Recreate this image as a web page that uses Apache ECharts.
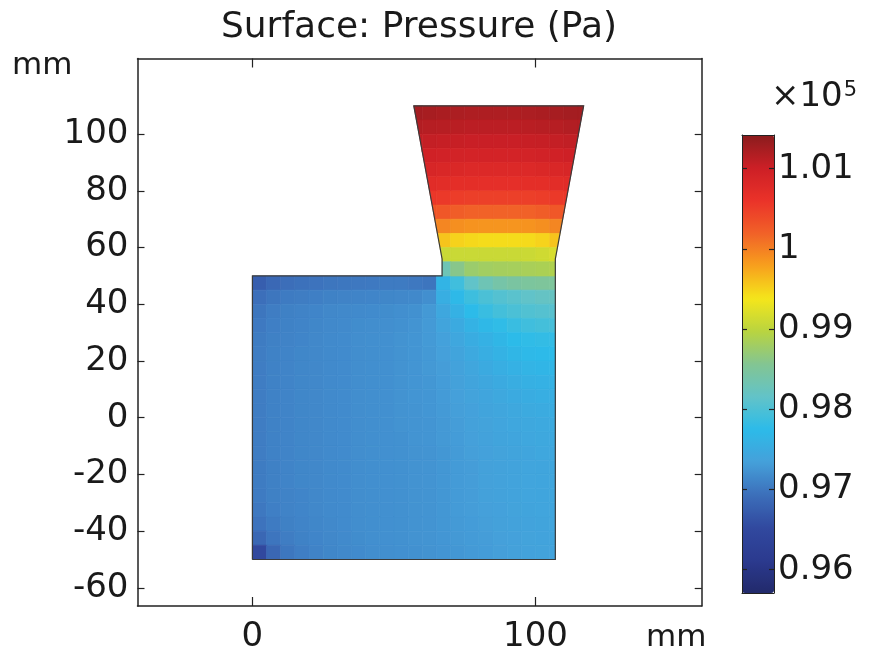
<!DOCTYPE html>
<html><head><meta charset="utf-8">
<script src="https://cdn.jsdelivr.net/npm/echarts@6/dist/echarts.min.js"></script>
<style>html,body{margin:0;padding:0;background:#fff}#c{width:869px;height:657px}</style>
</head><body><div id="c"></div>
<script>
const FONT = 'DejaVu Sans';
const titleText = 'Surface: Pressure (Pa)';
const xTicks = [0, 100];
const yTicks = [-60, -40, -20, 0, 20, 40, 60, 80, 100];
// colour-bar ticks, in hPa (label = value / 1000, i.e. x10^5 Pa)
const cbTicks = [960, 970, 980, 990, 1000, 1010];
const pMin = 957.1, pMax = 1014.2;

// ---- pressure field (hPa), 5 mm cells ----
const boxX = [2.5,7.5,12.5,17.5,22.5,27.5,32.5,37.5,42.5,47.5,52.5,57.5,62.5,67.5,72.5,77.5,82.5,87.5,92.5,97.5,102.5,107.5];
const boxY = [47.5,42.5,37.5,32.5,27.5,22.5,17.5,12.5,7.5,2.5,-2.5,-7.5,-12.5,-17.5,-22.5,-27.5,-32.5,-37.5,-42.5,-47.5];
const boxP = [
 [967.5,968.6,969.2,969.5,969.7,969.9,970.0,970.1,970.2,970.3,970.3,970.1,969.8,976.5,979.0,981.5,983.0,984.0,984.5,984.8,985.0,985.0],
 [969.3,969.9,970.3,970.5,970.7,970.9,971.0,971.1,971.2,971.3,971.4,971.5,972.0,975.5,977.2,978.8,979.8,980.5,981.0,981.5,981.9,982.1],
 [969.9,970.5,970.8,971.0,971.2,971.4,971.5,971.6,971.7,971.8,972.0,972.2,972.8,974.5,976.0,977.5,978.5,979.3,979.8,980.3,980.6,980.8],
 [970.2,970.7,970.9,971.1,971.3,971.5,971.6,971.8,971.9,972.0,972.2,972.4,972.9,974.0,975.0,976.2,977.0,977.8,978.5,979.0,979.3,979.5],
 [970.4,970.8,971.0,971.2,971.4,971.6,971.7,971.9,972.0,972.1,972.3,972.5,972.9,973.6,974.4,975.3,976.0,976.8,977.5,977.8,978.0,978.0],
 [970.5,970.9,971.1,971.3,971.4,971.6,971.7,971.9,972.0,972.1,972.3,972.5,972.8,973.4,974.0,974.8,975.5,976.2,976.8,977.2,977.4,977.5],
 [970.5,970.9,971.1,971.3,971.4,971.6,971.7,971.9,972.0,972.1,972.3,972.5,972.8,973.2,973.7,974.3,975.0,975.5,976.0,976.4,976.6,976.7],
 [970.5,970.9,971.1,971.3,971.4,971.6,971.7,971.9,972.0,972.1,972.3,972.5,972.7,973.1,973.5,974.0,974.5,975.0,975.4,975.8,976.0,976.1],
 [970.5,970.9,971.1,971.3,971.4,971.6,971.7,971.9,972.0,972.1,972.3,972.5,972.6,973.0,973.4,973.8,974.2,974.6,975.0,975.3,975.5,975.6],
 [970.5,970.9,971.1,971.3,971.4,971.6,971.7,971.9,972.0,972.1,972.3,972.4,972.6,972.9,973.3,973.6,974.0,974.3,974.6,974.9,975.1,975.2],
 [970.5,970.9,971.1,971.3,971.4,971.6,971.7,971.9,972.0,972.1,972.3,972.4,972.5,972.8,973.2,973.5,973.8,974.1,974.4,974.6,974.8,974.9],
 [970.5,970.9,971.1,971.3,971.4,971.6,971.7,971.9,972.0,972.1,972.2,972.4,972.5,972.8,973.1,973.4,973.7,974.0,974.2,974.4,974.6,974.7],
 [970.5,970.9,971.1,971.3,971.4,971.6,971.7,971.9,972.0,972.1,972.2,972.3,972.4,972.7,973.0,973.3,973.6,973.8,974.0,974.2,974.4,974.5],
 [970.4,970.8,971.1,971.3,971.4,971.6,971.7,971.9,972.0,972.1,972.2,972.3,972.4,972.7,973.0,973.2,973.5,973.7,973.9,974.1,974.2,974.3],
 [970.4,970.8,971.1,971.3,971.4,971.6,971.7,971.9,972.0,972.1,972.2,972.3,972.4,972.7,973.0,973.2,973.5,973.7,973.9,974.1,974.2,974.3],
 [970.3,970.8,971.0,971.2,971.4,971.6,971.7,971.9,972.0,972.1,972.2,972.3,972.4,972.7,973.0,973.2,973.5,973.7,973.9,974.1,974.2,974.3],
 [970.1,970.7,971.0,971.2,971.4,971.6,971.7,971.9,972.0,972.1,972.2,972.3,972.4,972.7,973.0,973.2,973.4,973.6,973.8,974.0,974.1,974.2],
 [969.7,970.3,970.8,971.1,971.3,971.5,971.7,971.9,972.0,972.1,972.2,972.3,972.4,972.7,972.9,973.1,973.3,973.5,973.7,973.9,974.0,974.1],
 [968.5,969.8,970.5,970.9,971.2,971.4,971.6,971.8,972.0,972.1,972.2,972.3,972.4,972.6,972.8,973.0,973.2,973.4,973.6,973.8,973.9,974.0],
 [965.0,968.5,970.0,970.6,971.0,971.3,971.5,971.7,971.9,972.0,972.1,972.2,972.3,972.5,972.7,972.9,973.1,973.3,973.5,973.7,973.8,973.9]
];
const neckX = [57.5,62.5,67.5,72.5,77.5,82.5,87.5,92.5,97.5,102.5,107.5,112.5,117.5];
const neckY = [107.5,102.5,97.5,92.5,87.5,82.5,77.5,72.5,67.5,62.5,57.5,52.5];
const neckP = [
 [1012.6,1012.4,1012.2,1012.1,1012.0,1012.0,1012.0,1012.0,1012.1,1012.2,1012.4,1012.6,1012.6],
 [1011.7,1011.5,1011.4,1011.3,1011.2,1011.2,1011.2,1011.2,1011.3,1011.4,1011.5,1011.7,1011.7],
 [1010.8,1010.6,1010.5,1010.4,1010.3,1010.3,1010.3,1010.3,1010.4,1010.5,1010.6,1010.8,1010.8],
 [1009.8,1009.6,1009.4,1009.3,1009.2,1009.2,1009.2,1009.2,1009.3,1009.4,1009.6,1009.8,null],
 [null,1008.6,1008.4,1008.2,1008.0,1008.0,1008.0,1008.0,1008.0,1008.2,1008.4,1008.6,null],
 [null,1007.3,1007.1,1006.9,1006.8,1006.7,1006.7,1006.7,1006.8,1006.9,1007.1,1007.3,null],
 [null,1005.6,1005.4,1005.1,1004.9,1004.8,1004.8,1004.8,1004.9,1005.1,1005.4,1005.6,null],
 [null,1003.0,1002.8,1002.3,1002.0,1001.9,1001.9,1001.9,1002.0,1002.3,1002.8,1003.0,null],
 [null,1000.0,999.6,999.0,998.7,998.6,998.6,998.6,998.7,999.0,999.6,null,null],
 [null,null,995.8,995.0,994.6,994.4,994.4,994.4,994.5,994.9,995.8,null,null],
 [null,null,990.8,990.8,990.8,990.8,990.8,990.8,990.9,991.2,991.8,null,null],
 [null,null,983.0,986.0,987.5,988.0,988.2,988.3,988.5,988.7,989.0,null,null]
];

// ---- geometry (mm); the outlet is split into two convex pieces ----
const boxRegion = [[0,-50],[107,-50],[107,50],[0,50]];
const neckLowRegion = [[67,50],[107,50],[107,56],[67,56]];
const neckHighRegion = [[67,56],[107,56],[117,110],[57,110]];
const outlineX = [0,107,107,117,57,67,67,0,0];
const outlineY = [-50,-50,56,110,110,56,50,50,-50];

const cmap = ['#222a6b','#2b3a8f','#31499f','#3c6fba','#45a0da','#2cbbe9','#62c3c8','#83c592','#b9d43f','#f5e61b','#f7a01d','#f16128','#ea3229','#cc1f26','#8a1c1d'];

const CELL = 5;
const fieldData = [];
boxY.forEach((y, i) => boxX.forEach((x, j) => { const v = boxP[i][j]; if (v != null) fieldData.push([x, y, v, 0]); }));
neckY.forEach((y, i) => neckX.forEach((x, j) => { const v = neckP[i][j]; if (v != null) fieldData.push([x, y, v, 1]); }));

function clipPoly(subject, clip) {
  let out = subject;
  for (let i = 0; i < clip.length && out.length; i++) {
    const a = clip[i], b = clip[(i + 1) % clip.length];
    const side = p => (b[0] - a[0]) * (p[1] - a[1]) - (b[1] - a[1]) * (p[0] - a[0]);
    const inp = out; out = [];
    for (let j = 0; j < inp.length; j++) {
      const s = inp[(j + inp.length - 1) % inp.length], e = inp[j];
      const ds = side(s), de = side(e);
      const cross = () => { const t = ds / (ds - de); return [s[0] + t * (e[0] - s[0]), s[1] + t * (e[1] - s[1])]; };
      if (de >= -1e-9) { if (ds < -1e-9) out.push(cross()); out.push(e); }
      else if (ds >= -1e-9) out.push(cross());
    }
  }
  return out;
}

const axisFont = { fontFamily: FONT, fontSize: 34, color: '#1a1a1a' };
const frameLine = { show: true, onZero: false, lineStyle: { color: '#222', width: 1.5 } };
const thinLine = { show: true, onZero: false, lineStyle: { color: '#222', width: 1 } };

const chart = echarts.init(document.getElementById('c'), null, { renderer: 'canvas' });
chart.setOption({
  animation: false,
  backgroundColor: '#fff',
  title: { text: titleText, left: 419, top: 10, textAlign: 'center', padding: 0,
    textStyle: { fontFamily: FONT, fontSize: 36, fontWeight: 'normal', color: '#1a1a1a' } },
  grid: [
    { left: 137.5, top: 58.5, width: 564.2, height: 547.5 },
    { left: 742, top: 135, width: 32, height: 458 }
  ],
  xAxis: [
    { gridIndex: 0, type: 'value', min: -40.6, max: 158.7, position: 'bottom', splitLine: { show: false },
      axisLine: frameLine, axisTick: { inside: true, length: 9, customValues: xTicks, lineStyle: { color: '#222', width: 1.2 } },
      axisLabel: Object.assign({ customValues: xTicks, margin: 14 }, axisFont) },
    { gridIndex: 0, type: 'value', min: -40.6, max: 158.7, position: 'top', splitLine: { show: false },
      axisLine: frameLine, axisTick: { inside: true, length: 9, customValues: xTicks, lineStyle: { color: '#222', width: 1.2 } },
      axisLabel: { show: false } },
    { gridIndex: 1, type: 'value', min: 0, max: 1, position: 'bottom', z: 10, splitLine: { show: false },
      axisLine: thinLine, axisTick: { show: false }, axisLabel: { show: false } },
    { gridIndex: 1, type: 'value', min: 0, max: 1, position: 'top', z: 10, splitLine: { show: false },
      axisLine: thinLine, axisTick: { show: false }, axisLabel: { show: false } }
  ],
  yAxis: [
    { gridIndex: 0, type: 'value', min: -66.4, max: 126.7, position: 'left', splitLine: { show: false },
      axisLine: frameLine, axisTick: { inside: true, length: 7, customValues: yTicks, lineStyle: { color: '#222', width: 1.2 } },
      axisLabel: Object.assign({ customValues: yTicks, margin: 9 }, axisFont) },
    { gridIndex: 0, type: 'value', min: -66.4, max: 126.7, position: 'right', splitLine: { show: false },
      axisLine: frameLine, axisTick: { inside: true, length: 7, customValues: yTicks, lineStyle: { color: '#222', width: 1.2 } },
      axisLabel: { show: false } },
    { gridIndex: 1, type: 'value', min: pMin, max: pMax, position: 'right', z: 10, splitLine: { show: false },
      axisLine: thinLine,
      axisTick: { inside: true, length: 5, customValues: cbTicks, lineStyle: { color: '#222', width: 1.2 } },
      axisLabel: Object.assign({ customValues: cbTicks, margin: 4, formatter: v => String(+(v / 1000).toFixed(2)) }, axisFont) },
    { gridIndex: 1, type: 'value', min: pMin, max: pMax, position: 'left', z: 10, splitLine: { show: false },
      axisLine: thinLine,
      axisTick: { inside: true, length: 5, customValues: cbTicks, lineStyle: { color: '#222', width: 1.2 } },
      axisLabel: { show: false } }
  ],
  visualMap: {
    type: 'continuous', min: pMin, max: pMax, dimension: 2, seriesIndex: 0,
    inRange: { color: cmap }, left: 742, top: 135, itemWidth: 32, itemHeight: 458,
    calculable: false, hoverLink: false, padding: 0, text: null, showLabel: false,
    textStyle: { color: 'transparent' }
  },
  graphic: [
    { type: 'text', left: 12, top: 50, style: { text: 'mm', font: '31px "DejaVu Sans"', fill: '#1a1a1a' } },
    { type: 'text', left: 646, top: 622, style: { text: 'mm', font: '31px "DejaVu Sans"', fill: '#1a1a1a' } },
    { type: 'text', left: 771, top: 80, style: { text: '×10{s|5}', font: '34px "DejaVu Sans"', fill: '#1a1a1a',
      rich: { s: { fontSize: 21, fontFamily: FONT, verticalAlign: 'top', lineHeight: 22, padding: [0, 0, 14, 1] } } } }
  ],
  series: [
    {
      type: 'custom', xAxisIndex: 0, yAxisIndex: 0, data: fieldData, silent: true,
      encode: { x: 0, y: 1 },
      renderItem: (params, api) => {
        const x = api.value(0), y = api.value(1), r = api.value(3), h = CELL / 2;
        const cell = [[x - h, y - h], [x + h, y - h], [x + h, y + h], [x - h, y + h]];
        const regions = r ? [neckLowRegion, neckHighRegion] : [boxRegion];
        const c = api.visual('color');
        const children = [];
        regions.forEach(reg => {
          const poly = clipPoly(cell, reg);
          if (poly.length >= 3) children.push({ type: 'polygon', shape: { points: poly.map(p => api.coord(p)) },
            style: { fill: c, stroke: c, lineWidth: 0.7 } });
        });
        return children.length ? { type: 'group', children } : null;
      }
    },
    {
      type: 'custom', xAxisIndex: 0, yAxisIndex: 0, data: [0], silent: true, z: 5,
      renderItem: (params, api) => ({
        type: 'polyline', shape: { points: outlineX.map((x, i) => api.coord([x, outlineY[i]])) },
        style: { fill: null, stroke: '#3a3a3a', lineWidth: 1.2 }
      })
    }
  ]
});
</script></body></html>
